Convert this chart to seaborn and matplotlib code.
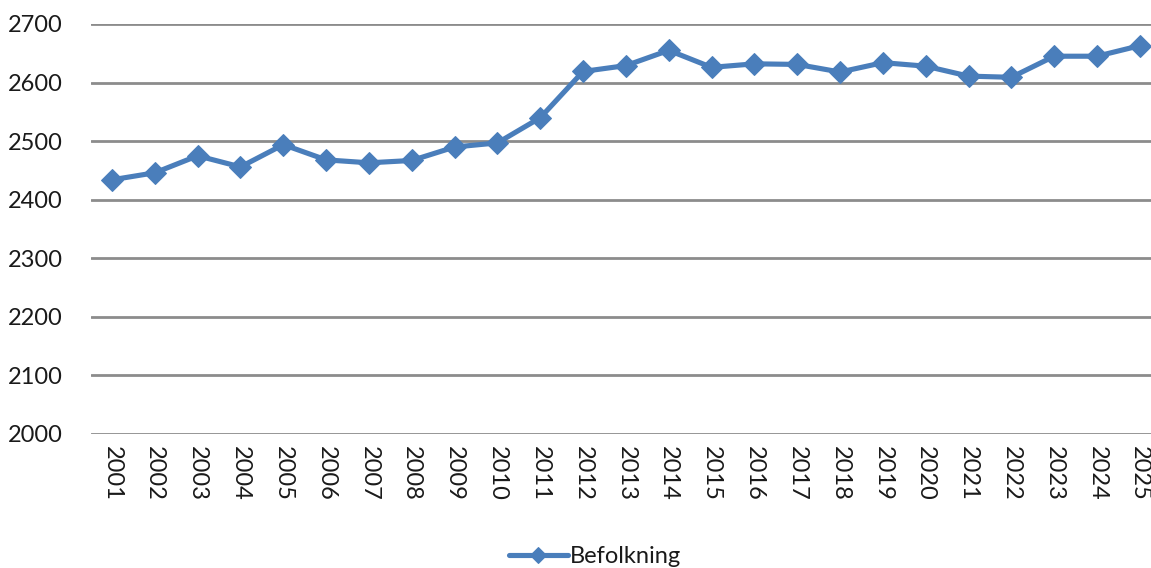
import matplotlib
matplotlib.use("Agg")
import matplotlib.pyplot as plt
import pandas as pd
import seaborn as sns

# population per year
years = [str(y) for y in range(2001, 2026)]
befolkning = [2434, 2446, 2475, 2456, 2494, 2468, 2463, 2467, 2490, 2497,
              2540, 2619, 2629, 2655, 2626, 2632, 2631, 2618, 2634, 2628,
              2611, 2609, 2645, 2645, 2663]
yticks = [2000, 2100, 2200, 2300, 2400, 2500, 2600, 2700]

df = pd.DataFrame({"year": years, "Befolkning": befolkning})

sns.set_style("white")
plt.rcParams['font.family'] = ['Lato', 'DejaVu Sans']
plt.rcParams['text.color'] = '#1a1a1a'

fig = plt.figure(figsize=(11.51, 5.68), dpi=100)
ax = fig.add_axes([90.6 / 1151, 1 - 434 / 568, (1151 - 90.6) / 1151, (434 - 24) / 568])

sns.lineplot(data=df, x="year", y="Befolkning", ax=ax, sort=False,
             color="#4A7EBB", linewidth=3.7, marker="D", markersize=11,
             markeredgecolor="#4A7EBB", label="Befolkning", zorder=3)

ax.set_ylim(2000, 2700)
ax.set_xlim(-0.5, 24.26)
ax.set_yticks(yticks)
ax.set_yticklabels([str(t) for t in yticks], fontsize=17, color="#1a1a1a")
ax.set_xticks(range(len(years)))
ax.set_xticklabels(years, rotation=270, fontsize=17, color="#1a1a1a")
ax.tick_params(axis="x", length=0, pad=9)
ax.tick_params(axis="y", length=0, pad=20)
ax.yaxis.grid(True, color="#8c8c8c", linewidth=2)
ax.set_axisbelow(True)
for s in ax.spines.values():
    s.set_visible(False)
ax.set_xlabel("")
ax.set_ylabel("")

leg = ax.legend(loc="center", bbox_to_anchor=(0.517, 0.02), bbox_transform=fig.transFigure,
                frameon=False, fontsize=17, handlelength=2.5, handletextpad=0.1)
leg.legend_handles[0].set_markersize(8)

fig.savefig("out.png", dpi=100)
